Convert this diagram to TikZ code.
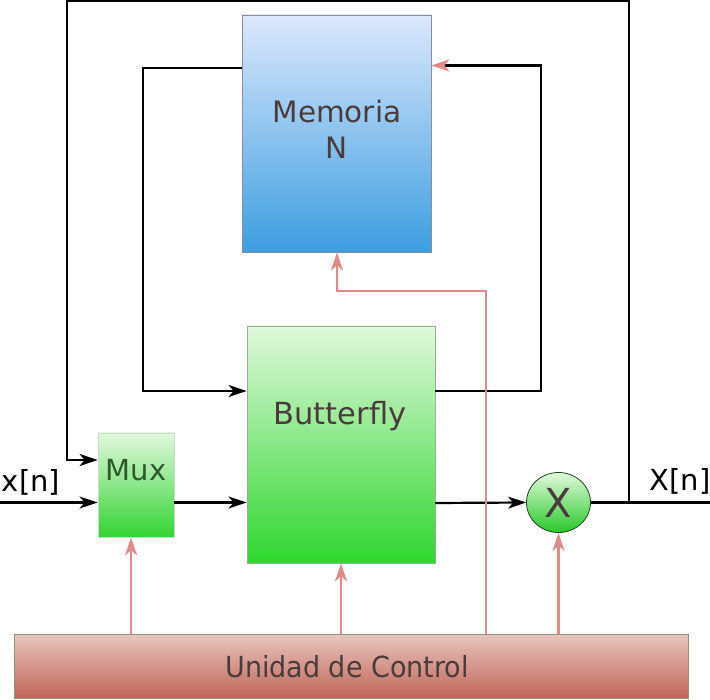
\documentclass[tikz,border=0pt]{standalone}
\usepackage{fontspec}
\setmainfont{DejaVu Sans}
\newfontfamily\condfont{DejaVu Sans}[FakeStretch=0.93]
\usetikzlibrary{arrows.meta,shapes.geometric,calc}
\definecolor{txt}{HTML}{4A3C3C}
\definecolor{muxtxt}{HTML}{2E5A2E}
\definecolor{ctl}{HTML}{E08A8A}
\begin{document}
\begin{tikzpicture}[x=1pt,y=-1pt,
  blk/.style={rectangle,inner sep=0pt,line width=0.8pt},
  lbl/.style={text=txt,font=\fontsize{29.5}{34}\selectfont,inner sep=0pt},
  tip/.style={-{Stealth[length=18pt,width=12pt,inset=5pt]}},
  wire/.style={line width=2.2pt,black},
  arr/.style={wire,tip},
  carr/.style={line width=2.2pt,ctl,tip},
  cwire/.style={line width=2.2pt,ctl}]
\useasboundingbox (0,0) rectangle (710,700);
% blocks
\node[blk,draw={rgb,255:red,140;green,140;blue,155},top color={rgb,255:red,220;green,232;blue,252},bottom color={rgb,255:red,60;green,158;blue,224},minimum width=189pt,minimum height=237pt] (mem) at (336.5,133.5) {};
\node[lbl,align=center] at (337,129) {Memoria\\[2pt]N};
\node[blk,draw={rgb,255:red,150;green,175;blue,150},top color={rgb,255:red,224;green,248;blue,220},bottom color={rgb,255:red,47;green,215;blue,47},minimum width=188pt,minimum height=237pt] (bf) at (341,444.5) {};
\node[lbl,font=\fontsize{30.5}{34}\selectfont] at (340,416) {Butterfly};
\node[blk,draw={rgb,255:red,200;green,222;blue,200},top color={rgb,255:red,226;green,248;blue,222},bottom color={rgb,255:red,50;green,212;blue,50},minimum width=76pt,minimum height=104pt] (mux) at (136,485) {};
\node[lbl,text=muxtxt,font=\fontsize{29}{34}\selectfont] at (136,470) {Mux};
\node[ellipse,inner sep=0pt,line width=0.8pt,draw={rgb,255:red,30;green,70;blue,30},top color={rgb,255:red,225;green,250;blue,220},bottom color={rgb,255:red,40;green,200;blue,40},minimum width=64pt,minimum height=60pt] (mul) at (558.5,502.5) {};
\node[text=txt,font=\fontsize{40}{40}\selectfont,inner sep=0pt] at (558.5,502.5) {X};
\node[blk,draw={rgb,255:red,140;green,150;blue,125},top color={rgb,255:red,232;green,198;blue,190},bottom color={rgb,255:red,192;green,100;blue,88},minimum width=674pt,minimum height=64pt] (cu) at (351,666) {};
\node[lbl,font=\condfont\fontsize{29}{34}\selectfont] at (347,667) {Unidad de Control};
% coordinates
\coordinate (xin) at (0,502.5);
\coordinate (xout) at (710,502.5);
\coordinate (fb) at (629,502.5);
% labels
\node[font=\fontsize{29}{34}\selectfont,inner sep=0pt] at (31,482) {x[n]};
\node[font=\fontsize{29}{34}\selectfont,inner sep=0pt] at (680,481) {X[n]};
% black wires
\draw[arr] (xin) -- (mux.west |- xin);
\draw[arr] (mux.east |- xin) -- (bf.west |- xin);
\draw[arr] (bf.east |- 0,503) -- (mul.west);
\draw[wire] (mul.east) -- (xout);
\draw[arr] (fb) -- (629,1) -- (67,1) -- (67,460) -- (mux.west |- 0,460);
\draw[arr] (mem.west |- 0,68) -- (143,68) -- (143,391) -- (bf.west |- 0,391);
\draw[wire,-{Stealth[length=18pt,width=12pt,inset=5pt,color=ctl]}] (bf.east |- 0,391) -- (541,391) -- (541,65.5) -- (mem.east |- 0,65.5);
% control lines
\draw[carr] (cu.north -| 131,0) -- (mux.south -| 131,0);
\draw[carr] (cu.north -| bf.south) -- (bf.south);
\draw[carr] (cu.north -| mul.south) -- (mul.south);
\draw[carr] (cu.north -| 486,0) -- (486,291) -- (337,291) -- (mem.south -| 337,0);
\end{tikzpicture}
\end{document}
